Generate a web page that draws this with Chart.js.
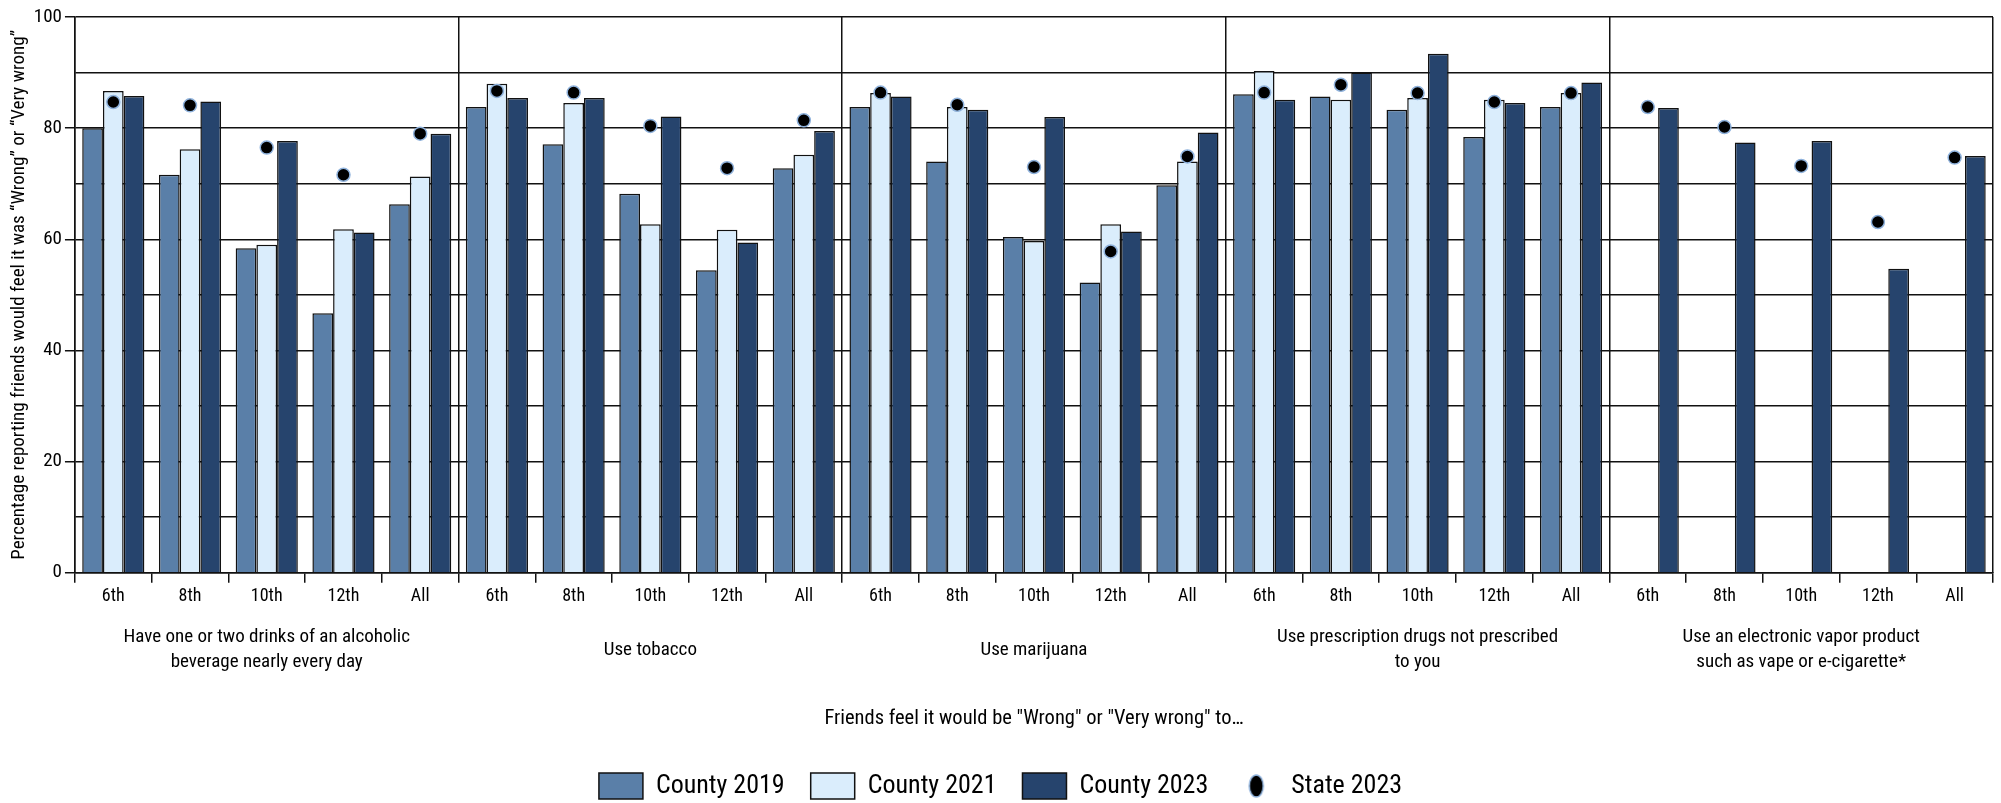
<!DOCTYPE html>
<html>
<head>
<meta charset="utf-8">
<script src="https://cdn.jsdelivr.net/npm/chart.js@4.4.1/dist/chart.umd.min.js"></script>
<style>
  html, body { margin: 0; padding: 0; background: #fff; }
  #wrap { width: 2001px; height: 803px; position: relative; }
</style>
</head>
<body>
<div id="wrap"><canvas id="chart"></canvas></div>
<script>
// Grades repeat inside each behaviour group.
const GRADES = ['6th', '8th', '10th', '12th', 'All'];
const GROUPS = [
  ['Have one or two drinks of an alcoholic', 'beverage nearly every day'],
  ['Use tobacco'],
  ['Use marijuana'],
  ['Use prescription drugs not prescribed', 'to you'],
  ['Use an electronic vapor product', 'such as vape or e-cigarette*'],
];
const Y_TICKS = [0, 20, 40, 60, 80, 100];

// Values per group, 6th / 8th / 10th / 12th / All.
const COUNTY_2019 = [
  80.0, 71.6, 58.4, 46.7, 66.3,
  83.8, 77.1, 68.2, 54.4, 72.8,
  83.8, 74.0, 60.4, 52.2, 69.7,
  86.1, 85.7, 83.3, 78.4, 83.8,
  null, null, null, null, null,
];
const COUNTY_2021 = [
  86.7, 76.2, 59.0, 61.8, 71.3,
  88.0, 84.5, 62.7, 61.7, 75.2,
  86.3, 83.8, 59.7, 62.7, 74.0,
  90.3, 85.1, 85.4, 85.1, 86.3,
  null, null, null, null, null,
];
const COUNTY_2023 = [
  85.8, 84.8, 77.7, 61.2, 79.0,
  85.4, 85.4, 82.1, 59.4, 79.5,
  85.7, 83.3, 82.0, 61.4, 79.2,
  85.1, 90.0, 93.4, 84.5, 88.2,
  83.6, 77.4, 77.7, 54.7, 75.0,
];
const STATE_2023 = [
  84.7, 84.1, 76.5, 71.6, 79.0,
  86.7, 86.4, 80.4, 72.8, 81.4,
  86.4, 84.2, 73.0, 57.8, 74.9,
  86.4, 87.8, 86.3, 84.7, 86.3,
  83.8, 80.2, 73.2, 63.1, 74.7,
];

const labels = GROUPS.flatMap(() => GRADES);
// Roboto Condensed is the closest installed match to the condensed face of the original.
const FONT = "'Roboto Condensed', 'DejaVu Sans Condensed', sans-serif";
const C19 = '#5a7fa8';
const C21 = '#daedfc';
const C23 = '#26446d';
const DOT_EDGE = '#8fb2dc';

// Small elliptical dot used as the legend marker for the state series.
function legendDot() {
  const c = document.createElement('canvas');
  c.width = 18;
  c.height = 26;
  const g = c.getContext('2d');
  g.beginPath();
  g.ellipse(9, 13, 7, 11, 0, 0, Math.PI * 2);
  g.fillStyle = '#000';
  g.fill();
  g.lineWidth = 1.5;
  g.strokeStyle = DOT_EDGE;
  g.stroke();
  return c;
}
const DOT_IMG = legendDot();

const barSet = (label, data, color) => ({
  label,
  data,
  backgroundColor: color,
  borderColor: '#111',
  borderWidth: 1.5,
  categoryPercentage: 0.81,
  barPercentage: 1.0,
  order: 1,
});

new Chart(document.getElementById('chart'), {
  type: 'bar',
  data: {
    labels,
    datasets: [
      barSet('County 2019', COUNTY_2019, C19),
      barSet('County 2021', COUNTY_2021, C21),
      barSet('County 2023', COUNTY_2023, C23),
      {
        type: 'line',
        label: 'State 2023',
        data: STATE_2023,
        showLine: false,
        pointRadius: 6.5,
        pointBackgroundColor: '#000',
        pointBorderColor: DOT_EDGE,
        pointBorderWidth: 1.5,
        order: 0,
      },
    ],
  },
  options: {
    responsive: true,
    maintainAspectRatio: false,
    animation: false,
    layout: { padding: { left: 8, right: 8, top: 17, bottom: -6 } },
    plugins: {
      tooltip: { enabled: false },
      legend: {
        position: 'bottom',
        labels: {
          usePointStyle: true,
          pointStyleWidth: 44,
          boxHeight: 26,
          padding: 26,
          color: '#000',
          font: { family: FONT, size: 26 },
          generateLabels: (chart) =>
            chart.data.datasets.map((ds, i) => ({
              text: ds.label,
              datasetIndex: i,
              fillStyle: ds.type === 'line' ? '#000' : ds.backgroundColor,
              strokeStyle: '#111',
              lineWidth: 1.5,
              pointStyle: ds.type === 'line' ? DOT_IMG : 'rect',
              fontColor: '#000',
              hidden: false,
            })),
        },
      },
    },
    scales: {
      x: {
        weight: 0,
        offset: true,
        grid: {
          offset: true,
          drawOnChartArea: false,
          drawTicks: true,
          tickLength: 10,
          color: '#111',
          lineWidth: 1.5,
        },
        border: { display: true, color: '#111', width: 1.5 },
        ticks: { color: '#000', padding: 3, font: { family: FONT, size: 18 }, maxRotation: 0, autoSkip: false },
      },
      x2: {
        type: 'category',
        labels: GROUPS,
        position: 'bottom',
        weight: 1,
        offset: true,
        grid: {
          offset: true,
          drawOnChartArea: true,
          drawTicks: false,
          color: '#111',
          lineWidth: 1.5,
        },
        border: { display: false },
        ticks: {
          color: '#000',
          padding: 27,
          crossAlign: 'center',
          font: { family: FONT, size: 19, lineHeight: 1.32 },
          maxRotation: 0,
          autoSkip: false,
        },
        title: {
          display: true,
          text: 'Friends feel it would be "Wrong" or "Very wrong" to…',
          color: '#000',
          font: { family: FONT, size: 20.5 },
          padding: { top: -8, bottom: 16 },
        },
      },
      y: {
        min: 0,
        max: 100,
        ticks: {
          stepSize: 10,
          color: '#000',
          padding: 3,
          font: { family: FONT, size: 19 },
          callback: (v) => (Y_TICKS.includes(v) ? v : ''),
        },
        grid: {
          color: '#111',
          lineWidth: 1.5,
          tickLength: 10,
          tickColor: (ctx) => (Y_TICKS.includes(ctx.tick.value) ? '#111' : 'rgba(0,0,0,0)'),
        },
        border: { display: true, color: '#111', width: 1.5 },
        title: {
          display: true,
          text: 'Percentage reporting friends would feel it was “Wrong” or “Very wrong”',
          color: '#000',
          font: { family: FONT, size: 19 },
          padding: { top: 0, bottom: 0 },
        },
      },
    },
  },
});
</script>
</body>
</html>
